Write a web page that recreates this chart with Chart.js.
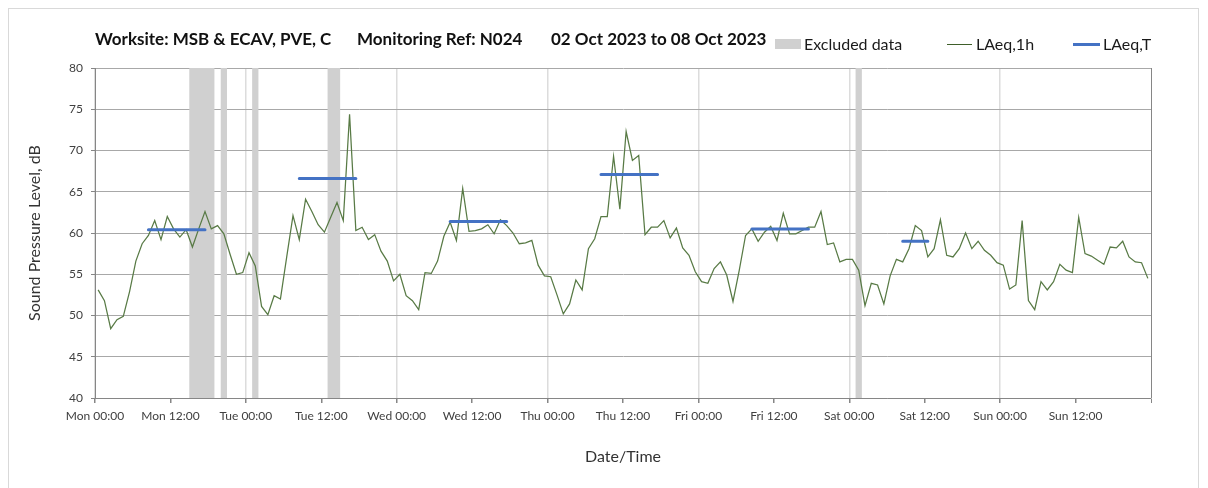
<!DOCTYPE html>
<html>
<head>
<meta charset="utf-8">
<script src="https://cdn.jsdelivr.net/npm/chart.js@4.4.0/dist/chart.umd.min.js"></script>
<style>
html,body{margin:0;padding:0;background:#fff;overflow:hidden}
#wrap{position:relative;width:1208px;height:488px;overflow:hidden}
#frame{position:absolute;left:8px;top:8px;width:1191px;height:520px;border:1px solid #d9d9d9;box-sizing:border-box}
canvas{position:absolute;left:0;top:0}
.t{position:absolute;font-family:Lato,'Open Sans',sans-serif;white-space:nowrap;line-height:16px;font-size:16px;color:#1a1a1a;z-index:2}
.b{font-weight:bold;color:#111;font-size:17px;line-height:17px}
.sw{position:absolute;z-index:2}
</style>
</head>
<body>
<div id="wrap">
<div id="frame"></div>
<canvas id="c" width="1208" height="488"></canvas>
<div class="t b" style="left:95px;top:30px">Worksite: MSB &amp; ECAV, PVE, C</div>
<div class="t b" style="left:357px;top:30px">Monitoring Ref: N024</div>
<div class="t b" style="left:551px;top:30px">02 Oct 2023 to 08 Oct 2023</div>
<div class="sw" style="left:775px;top:39px;width:26px;height:10px;background:#d0d0d0"></div>
<div class="t" style="left:804px;top:36px">Excluded data</div>
<div class="sw" style="left:947px;top:44px;width:25px;height:1px;background:#3f5f2a"></div>
<div class="t" style="left:976px;top:36px">LAeq,1h</div>
<div class="sw" style="left:1073px;top:43px;width:27px;height:3px;background:#4472c4"></div>
<div class="t" style="left:1103px;top:36px">LAeq,T</div>
</div>
<script>
// Hourly LAeq,1h values (dB), one per hour starting Mon 00:00
const laeq1h = [
 53.1,51.8,48.4,49.5,49.9,52.9,56.6,58.7,59.7,61.5,59.2,62.0,60.5,59.5,60.4,58.3,60.5,62.6,60.5,60.9,59.9,57.4,55.0,55.2,
 57.6,56.0,51.1,50.1,52.4,52.0,57.1,62.1,59.2,64.1,62.6,61.0,60.1,61.9,63.7,61.5,74.4,60.3,60.7,59.2,59.8,57.8,56.6,54.2,
 55.0,52.4,51.8,50.7,55.2,55.1,56.6,59.6,61.3,59.1,65.4,60.2,60.3,60.5,61.0,59.9,61.6,60.9,60.0,58.7,58.8,59.1,56.1,54.8,
 54.7,52.5,50.2,51.4,54.3,53.1,58.1,59.3,62.0,62.0,69.3,62.9,72.3,68.8,69.4,59.8,60.7,60.7,61.5,59.4,60.6,58.2,57.3,55.3,
 54.1,53.9,55.7,56.5,54.9,51.7,55.5,59.7,60.5,59.0,60.1,60.8,59.1,62.4,59.9,59.9,60.3,60.7,60.7,62.6,58.6,58.8,56.5,56.8,
 56.8,55.5,51.2,53.9,53.7,51.4,54.8,56.8,56.5,58.1,60.9,60.3,57.1,58.1,61.6,57.3,57.1,58.1,60.0,58.1,59.0,57.9,57.3,56.4,
 56.1,53.2,53.7,61.5,51.8,50.7,54.1,53.1,54.1,56.2,55.5,55.2,61.9,57.5,57.2,56.7,56.2,58.3,58.2,59.0,57.1,56.5,56.4,54.5
];
const firstHour = 0.5; // each hourly value plotted mid-hour

// LAeq,T periods (hours from Mon 00:00)
const periodStart = [8.5, 32.5, 56.5, 80.5, 104.5, 128.5];
const periodEnd   = [17.5, 41.5, 65.5, 89.5, 113.5, 132.5];
const laeqT       = [60.4, 66.6, 61.4, 67.1, 60.5, 59.0];

// Excluded data intervals (hours from Mon 00:00)
const excludedStart = [15, 20, 25, 37, 121];
const excludedEnd   = [19, 21, 26, 39, 122];

// Axis tick labels
const xTickLabels = ['Mon 00:00','Mon 12:00','Tue 00:00','Tue 12:00','Wed 00:00','Wed 12:00','Thu 00:00','Thu 12:00',
  'Fri 00:00','Fri 12:00','Sat 00:00','Sat 12:00','Sun 00:00','Sun 12:00',''];
const yMin = 40, yMax = 80, yStep = 5;
const xMin = 0, xMax = 168, xStep = 12;

const lineData = laeq1h.map((v, i) => ({x: firstHour + i, y: v}));
const tData = [];
laeqT.forEach((v, k) => {
  tData.push({x: periodStart[k], y: v});
  tData.push({x: periodEnd[k], y: v});
  tData.push({x: periodEnd[k], y: null});
});

const bandPlugin = {
  id: 'bands',
  beforeDatasetsDraw(chart) {
    const {ctx, chartArea, scales: {x}} = chart;
    ctx.save();
    ctx.fillStyle = '#d0d0d0';
    excludedStart.forEach((s, k) => {
      const x1 = x.getPixelForValue(s), x2 = x.getPixelForValue(excludedEnd[k]);
      ctx.fillRect(x1, chartArea.top, x2 - x1, chartArea.bottom - chartArea.top);
    });
    ctx.restore();
  }
};

const FONT = "Lato, 'Open Sans', sans-serif";

new Chart(document.getElementById('c'), {
  type: 'line',
  data: {
    datasets: [
      {label: 'LAeq,T', data: tData, borderColor: '#4472c4', borderWidth: 3, pointRadius: 0,
       spanGaps: false, borderCapStyle: 'round', tension: 0, order: 0},
      {label: 'LAeq,1h', data: lineData, borderColor: '#587a45', borderWidth: 1.25, pointRadius: 0,
       tension: 0, order: 1}
    ]
  },
  options: {
    responsive: false,
    animation: false,
    devicePixelRatio: 1,
    layout: {padding: {left: 0, right: 57, top: 68, bottom: 0}},
    plugins: {legend: {display: false}, title: {display: false}, tooltip: {enabled: false}},
    scales: {
      x: {
        type: 'linear', min: xMin, max: xMax,
        afterFit(s) { s.height = 90; },
        ticks: {stepSize: xStep, autoSkip: false, maxRotation: 0, padding: 6,
          color: '#404040', font: {family: FONT, size: 12},
          callback: (v, i) => xTickLabels[i]},
        grid: {
          color: c => (c.tick && c.tick.value % 24 === 0) ? (c.tick.value === xMax ? '#868686' : '#dcdcdc') : 'rgba(0,0,0,0)',
          lineWidth: c => (c.tick && c.tick.value === xMax) ? 1 : 1.5,
          tickColor: '#868686', tickLength: 5
        },
        border: {color: '#868686', width: 1},
        title: {display: true, text: 'Date/Time', color: '#333', font: {family: FONT, size: 16}, padding: {top: 4, bottom: 22}}
      },
      y: {
        min: yMin, max: yMax,
        afterFit(s) { s.width = 95; },
        ticks: {stepSize: yStep, padding: 8, color: '#404040', font: {family: FONT, size: 12}},
        grid: {color: '#a8a8a8', lineWidth: 1, tickColor: '#868686', tickLength: 4},
        border: {color: '#868686', width: 1},
        title: {display: true, text: 'Sound Pressure Level, dB', color: '#333', font: {family: FONT, size: 16}, padding: {top: 25, bottom: 0}}
      }
    }
  },
  plugins: [bandPlugin]
});
</script>
</body>
</html>
